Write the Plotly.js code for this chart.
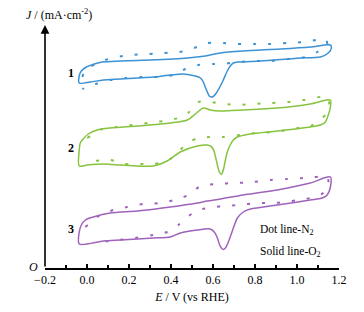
<!DOCTYPE html>
<html><head><meta charset="utf-8">
<script src="https://cdn.plot.ly/plotly-3.0.1.min.js"></script>
<style>html,body{margin:0;padding:0;background:#fff}</style>
</head><body><div id="plot" style="width:364px;height:312px"></div>
<script>
// Curve 1 (blue)
const o2_1_x = [-0.037,-0.037,-0.027,-0.003,0.035,0.073,0.159,0.301,0.478,0.563,0.635,0.744,0.921,1.063,1.159,1.164,1.149,1.111,1.016,0.954,0.826,0.720,0.697,0.682,0.668,0.649,0.630,0.616,0.601,0.592,0.582,0.573,0.563,0.554,0.540,0.516,0.459,0.397,0.316,0.240,0.159,0.078,0.016,-0.037];
const o2_1_y = [18.5,19.2,19.7,20.1,20.4,20.6,20.7,20.8,21.0,21.2,21.5,21.7,21.9,22.1,22.3,22.0,21.5,21.1,21.0,20.9,20.7,20.6,20.5,20.2,19.7,18.8,18.0,17.5,17.15,17.1,17.2,17.6,18.1,18.6,19.0,19.2,19.4,19.3,19.1,19.0,18.9,18.8,18.6,18.5];
const n2_1_x = [-0.022,-0.008,0.073,0.140,0.216,0.292,0.363,0.440,0.511,0.573,0.649,0.716,0.797,0.873,0.954,1.040,1.135,1.144,1.097,1.040,0.959,0.873,0.792,0.720,0.644,0.601,0.530,0.468,0.411,0.335,0.259,0.182,0.111,0.040,-0.022];
const n2_1_y = [19.1,19.8,20.7,21.1,21.3,21.4,21.5,21.6,22.0,22.5,22.5,22.4,22.4,22.4,22.5,22.6,22.9,22.3,21.6,21.1,20.9,20.7,20.7,20.6,20.4,20.4,20.3,19.9,19.3,19.1,19.1,19.0,18.8,18.4,17.9];
// Curve 2 (green)
const o2_2_x = [-0.037,-0.037,-0.032,-0.018,0.006,0.049,0.111,0.240,0.397,0.478,0.516,0.554,0.587,0.635,0.744,0.906,1.063,1.159,1.159,1.149,1.135,1.111,1.063,0.906,0.778,0.716,0.697,0.682,0.668,0.659,0.649,0.640,0.630,0.621,0.611,0.601,0.587,0.573,0.525,0.444,0.382,0.316,0.240,0.159,0.078,0.001,-0.037];
const o2_2_y = [10.2,11.8,12.5,12.9,13.4,13.8,14.0,14.2,14.5,14.8,15.4,16.0,15.8,15.7,15.8,16.0,16.4,16.8,16.1,15.3,14.6,14.3,14.1,13.7,13.4,13.1,12.8,12.3,11.6,10.8,9.8,9.35,9.6,10.3,11.2,11.9,12.2,12.3,12.2,11.6,10.7,10.2,10.2,10.3,10.4,10.3,10.2];
const n2_2_x = [0.001,0.073,0.140,0.216,0.292,0.363,0.435,0.487,0.530,0.587,0.654,0.716,0.797,0.873,0.954,1.030,1.144,1.154,1.135,1.120,1.049,1.001,0.959,0.883,0.811,0.730,0.649,0.601,0.530,0.478,0.430,0.382,0.316,0.254,0.178,0.111,0.035];
const n2_2_y = [13.0,13.9,14.1,14.3,14.5,14.7,15.0,15.6,16.6,16.6,16.4,16.3,16.4,16.5,16.6,16.8,17.1,16.1,15.3,15.0,14.0,14.0,13.8,13.6,13.5,13.3,13.1,13.1,13.0,12.5,11.5,10.7,10.4,10.4,10.4,10.8,10.7];
// Curve 3 (purple)
const o2_3_x = [-0.037,-0.037,-0.027,-0.008,0.030,0.111,0.240,0.397,0.525,0.573,0.635,0.744,0.906,1.063,1.159,1.159,1.144,1.120,1.063,0.906,0.778,0.744,0.716,0.702,0.687,0.673,0.659,0.649,0.640,0.630,0.621,0.606,0.587,0.525,0.444,0.397,0.316,0.240,0.159,0.078,-0.037];
const o2_3_y = [2.4,3.6,4.3,4.8,5.1,5.5,5.7,6.1,6.5,6.7,6.9,7.3,7.8,8.5,9.1,8.1,7.3,7.0,6.8,6.3,5.9,5.6,5.0,4.3,3.4,2.6,2.0,1.85,2.0,2.4,3.0,3.6,3.9,3.8,3.5,3.1,3.0,2.9,2.8,2.7,2.4];
const n2_3_x = [-0.008,0.020,0.063,0.125,0.192,0.268,0.349,0.435,0.492,0.540,0.611,0.716,0.792,0.873,0.954,1.040,1.144,1.149,1.125,1.063,1.001,0.954,0.873,0.802,0.730,0.649,0.611,0.530,0.478,0.435,0.382,0.316,0.263,0.187,0.111,0.030];
const n2_3_y = [4.1,4.6,5.3,5.8,6.1,6.4,6.5,6.9,7.4,8.2,8.4,8.5,8.6,8.8,8.9,9.0,9.1,8.3,7.5,7.0,6.8,6.6,6.5,6.5,6.3,6.2,6.1,5.8,5.1,4.3,3.6,3.3,3.1,2.9,2.7,2.6];

const curveLabels = ['1','2','3'];
const labelY = [19.5, 12.0, 3.9];
const colors = ['#3b92d4','#86c33f','#9f63bb'];
const tickVals = [-0.2,0.0,0.2,0.4,0.6,0.8,1.0,1.2];

const solid = (x,y,c)=>({x,y,type:'scatter',mode:'lines',line:{color:c,width:1.5,shape:'spline',smoothing:0.8},hoverinfo:'skip'});
const dotted = (x,y,c)=>({x,y,type:'scatter',mode:'lines',line:{color:c,width:2,dash:'3px,12px',shape:'spline',smoothing:0.7},hoverinfo:'skip'});

const data = [
  dotted(n2_1_x,n2_1_y,colors[0]), solid(o2_1_x,o2_1_y,colors[0]),
  dotted(n2_2_x,n2_2_y,colors[1]), solid(o2_2_x,o2_2_y,colors[1]),
  dotted(n2_3_x,n2_3_y,colors[2]), solid(o2_3_x,o2_3_y,colors[2])
];

const serif = 'Liberation Serif, Times New Roman, serif';
const ann = [
  {x:-0.2,y:24.3,ax:-0.2,ay:0,xref:'x',yref:'y',axref:'x',ayref:'y',text:'',showarrow:true,arrowhead:2,arrowsize:1.1,arrowwidth:1.6,arrowcolor:'#000',standoff:0,startstandoff:0},
  {xref:'paper',yref:'paper',x:-0.07,y:1.0,yshift:11,xanchor:'left',yanchor:'middle',text:'<i>J</i> / (mA·cm<sup>-2</sup>)',showarrow:false,font:{family:serif,size:12,color:'#000'}},
  {x:-0.2,y:0,xref:'x',yref:'y',xanchor:'right',yanchor:'middle',xshift:-5,yshift:1,text:'<i>O</i>',showarrow:false,font:{family:serif,size:12,color:'#000'}},
  {x:0.815,y:3.8,xref:'x',yref:'y',xanchor:'left',yanchor:'middle',text:'Dot line-N<sub>2</sub>',showarrow:false,font:{family:serif,size:11.5,color:'#000'}},
  {x:0.815,y:1.6,xref:'x',yref:'y',xanchor:'left',yanchor:'middle',text:'Solid line-O<sub>2</sub>',showarrow:false,font:{family:serif,size:11.5,color:'#000'}}
];
curveLabels.forEach((t,i)=>ann.push({x:-0.075,y:labelY[i],xref:'x',yref:'y',text:'<b>'+t+'</b>',showarrow:false,font:{family:serif,size:12,color:'#000'}}));

const layout = {
  width:364,height:312,margin:{l:45,r:25,t:25,b:44},
  paper_bgcolor:'#fff',plot_bgcolor:'#fff',showlegend:false,
  xaxis:{range:[-0.2,1.2],tickvals:tickVals,ticktext:tickVals.map(v=>(v<0?'\u2212':'')+Math.abs(v).toFixed(1)),
    ticks:'inside',ticklen:4,tickwidth:1.3,tickcolor:'#000',showline:true,linecolor:'#000',linewidth:1.6,
    showgrid:false,zeroline:false,minor:{dtick:0.1,tick0:-0.2,ticks:'inside',ticklen:3,tickwidth:1.2,tickcolor:'#000',showgrid:false},
    tickfont:{family:serif,size:12,color:'#000'},
    title:{text:'<i>E</i> / V (vs RHE)',font:{family:serif,size:12,color:'#000'},standoff:6}},
  yaxis:{range:[0,24.3],showticklabels:false,ticks:'',showgrid:false,zeroline:false,showline:false},
  annotations:ann
};
Plotly.newPlot('plot',data,layout,{staticPlot:true});
</script></body></html>
